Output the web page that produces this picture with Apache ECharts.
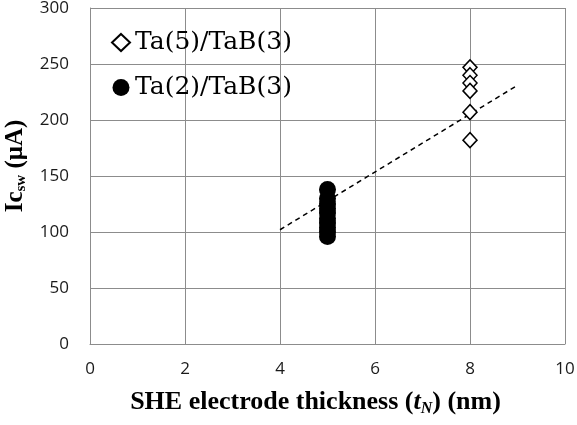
<!DOCTYPE html>
<html>
<head>
<meta charset="utf-8">
<script src="https://cdn.jsdelivr.net/npm/echarts@6/dist/echarts.min.js"></script>
<style>
  html, body { margin: 0; padding: 0; background: #fff; }
  #chart { width: 577px; height: 425px; }
</style>
</head>
<body>
<div id="chart"></div>
<script>
// Ta(5)/TaB(3): all at t_N = 8 nm
const ta5X = [8, 8, 8, 8, 8, 8]
const ta5Y = [247, 240, 233, 226, 207, 182]
// Ta(2)/TaB(3): all at t_N = 5 nm
const ta2X = [5, 5, 5, 5, 5, 5, 5, 5, 5, 5]
const ta2Y = [96, 100, 104, 108, 112, 117, 121, 125, 130, 138]
// dashed trend line end points
const trendX = [4, 9]
const trendY = [102, 231]

const legendNames = ['Ta(5)/TaB(3)', 'Ta(2)/TaB(3)']

const gridColor = '#8c8c8c'
const tickFont = { color: '#1a1a1a', fontSize: 17, fontFamily: "'Open Sans', sans-serif" }
const serif = "'Liberation Serif', serif"

const chart = echarts.init(document.getElementById('chart'))

chart.setOption({
  backgroundColor: '#fff',
  animation: false,
  grid: { left: 90, right: 12, top: 8, bottom: 81, outerBoundsMode: 'none' },
  legend: {
    data: legendNames,
    orient: 'vertical',
    left: 106,
    top: 25,
    itemWidth: 18,
    itemHeight: 17,
    itemGap: 20,
    textStyle: { fontSize: 25, fontFamily: "'DejaVu Serif', serif", color: '#000' },
  },
  xAxis: {
    type: 'value',
    min: 0,
    max: 10,
    interval: 2,
    name: '{b|SHE electrode thickness (}{i|t}{s|N}{b|) (nm)}',
    nameLocation: 'middle',
    nameGap: 44,
    nameTextStyle: {
      padding: [0, 24, 0, 0],
      rich: {
        b: { fontSize: 26, fontWeight: 'bold', fontFamily: serif, color: '#000' },
        i: { fontSize: 26, fontWeight: 'bold', fontStyle: 'italic', fontFamily: serif, color: '#000' },
        s: { fontSize: 16, fontWeight: 'bold', fontStyle: 'italic', fontFamily: serif, color: '#000', padding: [13, 0, 0, 0] },
      },
    },
    axisLine: { lineStyle: { color: gridColor } },
    axisTick: { show: false },
    axisLabel: { ...tickFont, margin: 17 },
    splitLine: { lineStyle: { color: gridColor, width: 1 } },
  },
  yAxis: {
    type: 'value',
    min: 0,
    max: 300,
    interval: 50,
    name: '{b|Ic}{s|sw}{b| (μA)}',
    nameLocation: 'middle',
    nameRotate: 90,
    nameGap: 55,
    nameTextStyle: {
      padding: [0, 0, 0, 20],
      rich: {
        b: { fontSize: 25, fontWeight: 'bold', fontFamily: serif, color: '#000' },
        s: { fontSize: 15, fontWeight: 'bold', fontFamily: serif, color: '#000', padding: [12, 0, 0, 0] },
      },
    },
    axisLine: { show: true, lineStyle: { color: gridColor } },
    axisTick: { show: false },
    axisLabel: { ...tickFont, margin: 21 },
    splitLine: { lineStyle: { color: gridColor, width: 1 } },
  },
  series: [
    {
      name: 'trend',
      type: 'line',
      data: trendX.map((x, i) => [x, trendY[i]]),
      symbol: 'none',
      lineStyle: { color: '#000', width: 1.5, type: [5, 4] },
      z: 1,
    },
    {
      name: legendNames[0],
      type: 'scatter',
      data: ta5X.map((x, i) => [x, ta5Y[i]]),
      symbol: 'diamond',
      symbolSize: [14, 15],
      itemStyle: { color: '#fff', borderColor: '#000', borderWidth: 1.5, opacity: 1 },
      z: 3,
    },
    {
      name: legendNames[1],
      type: 'scatter',
      data: ta2X.map((x, i) => [x, ta2Y[i]]),
      symbol: 'circle',
      symbolSize: 17,
      itemStyle: { color: '#000', opacity: 1 },
      z: 3,
    },
  ],
})
</script>
</body>
</html>
